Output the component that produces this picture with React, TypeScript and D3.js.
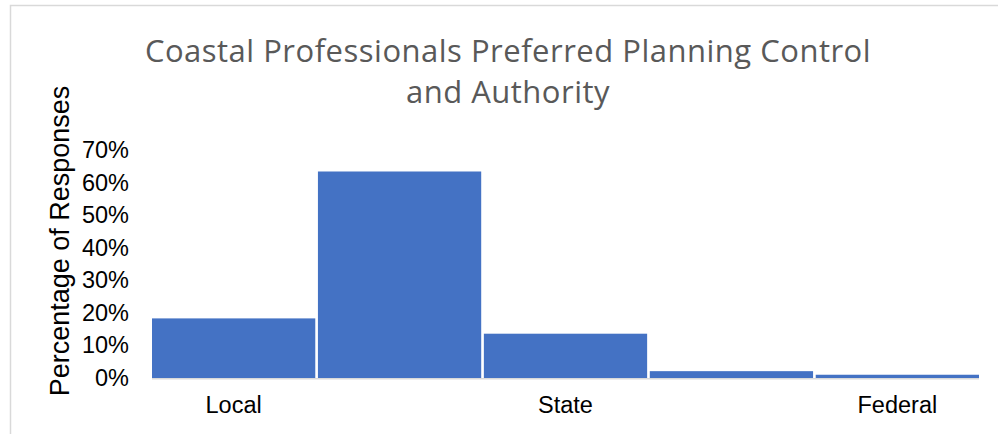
import React, { useEffect, useRef } from 'react';
import * as d3 from 'd3';

const categories = ['Local', 'Local-State', 'State', 'State-Federal', 'Federal'];
const tickLabels = ['Local', '', 'State', '', 'Federal'];
const values = [0.183, 0.634, 0.136, 0.021, 0.01];
const yTicks = [0, 0.1, 0.2, 0.3, 0.4, 0.5, 0.6, 0.7];
const titleLines = ['Coastal Professionals Preferred Planning Control', 'and Authority'];

const App: React.FC = () => {
  const svgRef = useRef<SVGSVGElement | null>(null);

  useEffect(() => {
    if (!svgRef.current) return;
    const svg = d3.select(svgRef.current);
    svg.selectAll('*').remove();

    const width = 998;
    const height = 434;
    const margin = { top: 150, right: 19, bottom: 56, left: 152 };

    svg.attr('width', width).attr('height', height);

    // chart area border
    svg.append('rect')
      .attr('x', 10.5).attr('y', 5.5)
      .attr('width', width).attr('height', height)
      .attr('fill', '#fff')
      .attr('stroke', '#d9d9d9')
      .attr('stroke-width', 1.5);

    const x = d3.scaleBand<string>()
      .domain(categories)
      .range([margin.left, width - margin.right])
      .paddingInner(0.016)
      .paddingOuter(0);

    const y = d3.scaleLinear()
      .domain([0, 0.7])
      .range([height - margin.bottom, margin.top]);

    svg.append('g')
      .selectAll('text.title')
      .data(titleLines)
      .enter().append('text')
      .attr('x', 508)
      .attr('y', (_, i) => 62 + i * 41)
      .attr('text-anchor', 'middle')
      .attr('font-family', '"Open Sans", sans-serif')
      .attr('font-size', 31)
      .attr('letter-spacing', 0.5)
      .attr('fill', '#595959')
      .text(d => d);

    svg.append('g')
      .selectAll('rect.bar')
      .data(values)
      .enter().append('rect')
      .attr('x', (_, i) => x(categories[i]) as number)
      .attr('y', d => y(d))
      .attr('width', x.bandwidth())
      .attr('height', d => y(0) - y(d))
      .attr('fill', '#4472c4');

    svg.append('line')
      .attr('x1', margin.left).attr('x2', width - margin.right)
      .attr('y1', y(0) + 0.8).attr('y2', y(0) + 0.8)
      .attr('stroke', '#d9d9d9')
      .attr('stroke-width', 1.5);

    const yAxis = svg.append('g')
      .attr('transform', `translate(${margin.left - 23},0)`)
      .call(d3.axisLeft(y).tickValues(yTicks).tickFormat(d3.format('.0%')).tickSize(0).tickPadding(0));
    yAxis.select('.domain').remove();
    yAxis.selectAll('text')
      .attr('font-family', '"Liberation Sans", Arial, sans-serif')
      .attr('font-size', 23.5)
      .attr('fill', '#000');

    const xAxis = svg.append('g')
      .attr('transform', `translate(0,${y(0)})`)
      .call(d3.axisBottom(x).tickSize(0).tickPadding(18).tickFormat((_, i) => tickLabels[i]));
    xAxis.select('.domain').remove();
    xAxis.selectAll('text')
      .attr('font-family', '"Liberation Sans", Arial, sans-serif')
      .attr('font-size', 23.5)
      .attr('fill', '#000');

    svg.append('text')
      .attr('transform', 'rotate(-90)')
      .attr('x', -241)
      .attr('y', 69)
      .attr('text-anchor', 'middle')
      .attr('font-family', '"Liberation Sans", Arial, sans-serif')
      .attr('font-size', 27)
      .attr('fill', '#000')
      .text('Percentage of Responses');
  }, []);

  return <svg ref={svgRef} style={{ position: 'absolute', left: 0, top: 0 }}></svg>;
};

export default App;
